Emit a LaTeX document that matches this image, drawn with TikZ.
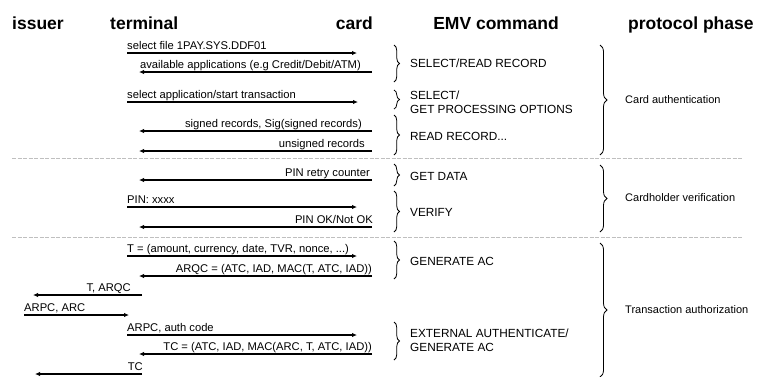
\documentclass[tikz,border=0pt]{standalone}
\usepackage{fontspec}
\setmainfont{Liberation Sans}
\usetikzlibrary{arrows.meta,decorations.pathreplacing}
\tikzset{
  msgline/.style={line width=1.7pt,-{Latex[length=5pt,width=4.5pt]}},
  lbl/.style={inner sep=0pt,font=\fontsize{11.2}{13}\selectfont},
  hdr/.style={inner sep=0pt,anchor=base west,font=\fontsize{17.5}{20}\selectfont\bfseries},
  sep/.style={gray!50,line width=0.6pt,dash pattern=on 4pt off 1.5pt},
  smallbrace/.style={decorate,decoration={brace,amplitude=5.5pt},line width=0.8pt},
  bigbrace/.style={decorate,decoration={brace,amplitude=7pt},line width=0.8pt},
  cmd/.style={inner sep=0pt,anchor=west,align=left,font=\fontsize{11.8}{14}\selectfont},
  phase/.style={inner sep=0pt,anchor=west,align=left,font=\fontsize{11}{13}\selectfont},
}
% #1 name, #2 y, #3 x start, #4 x end, #5 label x, #6 anchor, #7 text
\newcommand{\msgarrow}[7]{%
  \coordinate (#1s) at (#3,#2);
  \coordinate (#1e) at (#4,#2);
  \draw[msgline] (#1s) -- (#1e);
  \node[lbl,anchor=#6] (#1l) at (#5,#2-4) {#7};
}
\begin{document}
\begin{tikzpicture}[x=1pt,y=-1pt]
\useasboundingbox (0,0) rectangle (763,376);
% headers
\node[hdr] (hiss) at (12,29) {issuer};
\node[hdr] (hter) at (110,29) {terminal};
\node[hdr,anchor=base east] (hcard) at (373,29) {card};
\node[hdr,anchor=base] (hemv) at (496,29) {EMV command};
\node[hdr] (hphase) at (628,29) {protocol phase};

% messages
\msgarrow{m1}{53}{127}{357}{127}{base west}{select file 1PAY.SYS.DDF01}
\msgarrow{m2}{72}{372}{139}{361}{base east}{available applications (e.g Credit/Debit/ATM)}
\msgarrow{m3}{102}{127}{358}{127}{base west}{select application/start transaction}
\msgarrow{m4}{131}{372}{139}{362}{base east}{signed records, Sig(signed records)}
\msgarrow{m5}{151}{372}{139}{365}{base east}{unsigned records}
\msgarrow{m6}{180}{372}{139}{370}{base east}{PIN retry counter}
\msgarrow{m7}{207}{127}{357}{127}{base west}{PIN: xxxx}
\msgarrow{m8}{227}{372}{139}{373}{base east}{PIN OK/Not OK}
\msgarrow{m9}{256}{127}{357}{127}{base west}{T = (amount, currency, date, TVR, nonce, ...)}
\msgarrow{m10}{276}{372}{139}{372}{base east}{ARQC = (ATC, IAD, MAC(T, ATC, IAD))}
\msgarrow{m11}{295}{142}{33}{131}{base east}{T, ARQC}
\msgarrow{m12}{315}{24}{129}{24}{base west}{ARPC, ARC}
\msgarrow{m13}{335}{127}{357}{127}{base west}{ARPC, auth code}
\msgarrow{m14}{354}{372}{139}{372}{base east}{TC = (ATC, IAD, MAC(ARC, T, ATC, IAD))}
\msgarrow{m15}{374}{142}{35}{143}{base east}{TC}

% separators
\coordinate (s1a) at (12,158); \coordinate (s1b) at (742,158);
\coordinate (s2a) at (12,237); \coordinate (s2b) at (742,237);
\draw[sep] (s1a) -- (s1b);
\draw[sep] (s2a) -- (s2b);

% EMV command braces
\draw[smallbrace] (394,45) -- (394,82);
\node[cmd] (c1) at (410,63) {SELECT/READ RECORD};
\draw[smallbrace] (394,90) -- (394,109);
\node[cmd] (c2) at (410,102) {SELECT/\\GET PROCESSING OPTIONS};
\draw[smallbrace] (394,115) -- (394,155);
\node[cmd] (c3) at (410,136) {READ RECORD...};
\draw[smallbrace] (394,164) -- (394,186);
\node[cmd] (c4) at (410,176) {GET DATA};
\draw[smallbrace] (394,191) -- (394,232);
\node[cmd] (c5) at (410,212) {VERIFY};
\draw[smallbrace] (394,241) -- (394,279);
\node[cmd] (c6) at (410,261) {GENERATE AC};
\draw[smallbrace] (394,322) -- (394,360);
\node[cmd] (c7) at (410,340) {EXTERNAL AUTHENTICATE/\\GENERATE AC};

% protocol phase braces
\draw[bigbrace] (600,45) -- (600,155);
\node[phase] (p1) at (625,100) {Card authentication};
\draw[bigbrace] (600,165) -- (600,232);
\node[phase] (p2) at (625,198) {Cardholder verification};
\draw[bigbrace] (600,243) -- (600,377);
\node[phase] (p3) at (625,310) {Transaction authorization};
\end{tikzpicture}
\end{document}
